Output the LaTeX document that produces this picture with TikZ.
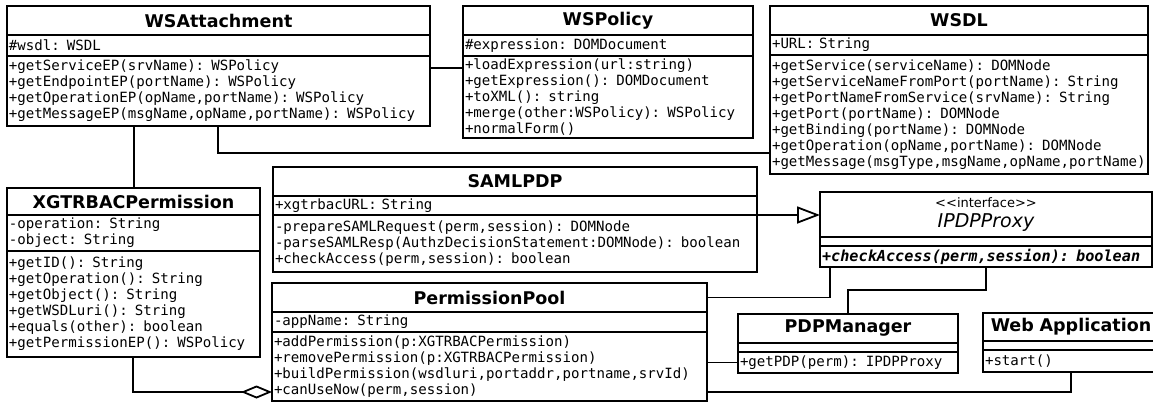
\documentclass[tikz,border=0pt]{standalone}
\usepackage{fontspec}
\usepackage{tikz}
\usetikzlibrary{arrows.meta,positioning}
\newfontfamily\umlsans{DejaVu Sans}[Ligatures=TeXOff]
\newfontfamily\umlmono{DejaVu Sans Mono}[Ligatures=TeXOff]
\tikzset{
  umlbox/.style={draw, line width=1.8pt, outer sep=0pt, anchor=north west,
    inner xsep=2pt, inner ysep=0pt},
  classname/.style={umlbox, align=center, font=\umlsans\bfseries\fontsize{17.5}{20}\selectfont},
  members/.style={umlbox, align=left, font=\umlmono\fontsize{14.1}{16}\selectfont},
  link/.style={line width=1.8pt},
  aggregation/.style={link, {Diamond[open,length=31pt 0,width=13pt 0]}-},
  realization/.style={link, -{Triangle[open,length=23pt 0,width=17pt 0]}},
}

\begin{document}
\begin{tikzpicture}[x=1pt, y=-1pt]
    \useasboundingbox (0,0) rectangle (1153,402);
    \clip (0,0) rectangle (1153,402);

    % WSAttachment
    \node[classname, text width=419pt, minimum height=29pt] (wsa) at (7,6) {WSAttachment};
    \node[members, text width=419pt, minimum height=21pt] (wsa-a) at (wsa.south west) {\#wsdl: WSDL};
    \node[members, text width=419pt, minimum height=70pt] (wsa-m) at (wsa-a.south west)
        {+getServiceEP(srvName): WSPolicy\\
         +getEndpointEP(portName): WSPolicy\\
         +getOperationEP(opName,portName): WSPolicy\\
         +getMessageEP(msgName,opName,portName): WSPolicy};

    % WSPolicy
    \node[classname, text width=286pt, minimum height=29pt] (wsp) at (463,6) {WSPolicy};
    \node[members, text width=286pt, minimum height=21pt] (wsp-a) at (wsp.south west) {\#expression: DOMDocument};
    \node[members, text width=286pt, minimum height=82pt] (wsp-m) at (wsp-a.south west)
        {+loadExpression(url:string)\\
         +getExpression(): DOMDocument\\
         +toXML(): string\\
         +merge(other:WSPolicy): WSPolicy\\
         +normalForm()};

    % WSDL
    \node[classname, text width=374pt, minimum height=29pt] (wsdl) at (770,6) {WSDL};
    \node[members, text width=374pt, minimum height=20pt] (wsdl-a) at (wsdl.south west) {+URL: String};
    \node[members, text width=374pt, minimum height=119pt] (wsdl-m) at (wsdl-a.south west)
        {+getService(serviceName): DOMNode\\
         +getServiceNameFromPort(portName): String\\
         +getPortNameFromService(srvName): String\\
         +getPort(portName): DOMNode\\
         +getBinding(portName): DOMNode\\
         +getOperation(opName,portName): DOMNode\\
         +getMessage(msgType,msgName,opName,portName)};

    % XGTRBACPermission
    \node[classname, text width=249pt, minimum height=27pt] (xp) at (7,188) {XGTRBACPermission};
    \node[members, text width=249pt, minimum height=36pt] (xp-a) at (xp.south west)
        {-operation: String\\
         -object: String};
    \node[members, text width=249pt, minimum height=106pt] (xp-m) at (xp-a.south west)
        {+getID(): String\\
         +getOperation(): String\\
         +getObject(): String\\
         +getWSDLuri(): String\\
         +equals(other): boolean\\
         +getPermissionEP(): WSPolicy};

    % SAMLPDP
    \node[classname, text width=480pt, minimum height=29pt] (saml) at (273,167) {SAMLPDP};
    \node[members, text width=480pt, minimum height=19pt] (saml-a) at (saml.south west) {+xgtrbacURL: String};
    \node[members, text width=480pt, minimum height=57pt] (saml-m) at (saml-a.south west)
        {-prepareSAMLRequest(perm,session): DOMNode\\
         -parseSAMLResp(AuthzDecisionStatement:DOMNode): boolean\\
         +checkAccess(perm,session): boolean};

    % IPDPProxy
    \node[classname, text width=328pt, minimum height=45pt] (ipdp) at (820,192)
        {{\mdseries\fontsize{13}{15}\selectfont <<interface>>}\\
         {\mdseries\itshape\fontsize{19}{20}\selectfont IPDPProxy}};
    \node[members, text width=328pt, minimum height=9pt] (ipdp-a) at (ipdp.south west) {};
    \node[members, text width=328pt, minimum height=21pt] (ipdp-m) at (ipdp-a.south west)
        {\bfseries\itshape\fontsize{15.2}{16}\selectfont +checkAccess(perm,session): boolean};

    % PermissionPool
    \node[classname, text width=431pt, minimum height=29pt] (pool) at (272,283) {PermissionPool};
    \node[members, text width=431pt, minimum height=20pt] (pool-a) at (pool.south west) {-appName: String};
    \node[members, text width=431pt, minimum height=69pt] (pool-m) at (pool-a.south west)
        {+addPermission(p:XGTRBACPermission)\\
         +removePermission(p:XGTRBACPermission)\\
         +buildPermission(wsdluri,portaddr,portname,srvId)\\
         +canUseNow(perm,session)};

    % PDPManager
    \node[classname, text width=216pt, minimum height=29pt] (pdpm) at (738,314) {PDPManager};
    \node[members, text width=216pt, minimum height=9pt] (pdpm-a) at (pdpm.south west) {};
    \node[members, text width=216pt, minimum height=21pt] (pdpm-m) at (pdpm-a.south west) {+getPDP(perm): IPDPProxy};

    % Web Application
    \node[classname, text width=172pt, minimum height=28pt] (webapp) at (983,313) {Web Application};
    \node[members, text width=172pt, minimum height=9pt] (webapp-a) at (webapp.south west) {};
    \node[members, text width=172pt, minimum height=22pt] (webapp-m) at (webapp-a.south west) {+start()};

    % Associations
    \draw[link] ([yshift=-12pt]wsa-m.north east) -- ([yshift=-12pt]wsp-m.north west);
    \draw[link] ([xshift=211pt]wsa-m.south west) |- ([yshift=-98pt]wsdl-m.north west);
    \draw[link] ([xshift=127pt]wsa-m.south west) -- ([xshift=127pt]xp.north west);
    \draw[aggregation] ([yshift=-60pt]pool-m.north west) -| ([xshift=126pt]xp-m.south west);
    \draw[realization] (saml-a.south east) -- (ipdp.west |- saml-a.south east);
    \draw[link] (pool.east) -| ([xshift=10pt]ipdp-m.south west);
    \draw[link] (pdpm.north) -- ++(0pt,24pt) -| (ipdp-m.south);
    \draw[link] (pdpm-m.west) -- (pool-m.east |- pdpm-m.west);
    \draw[link] ([yshift=-60pt]pool-m.north east) -| (webapp-m.south);
\end{tikzpicture}
\end{document}
